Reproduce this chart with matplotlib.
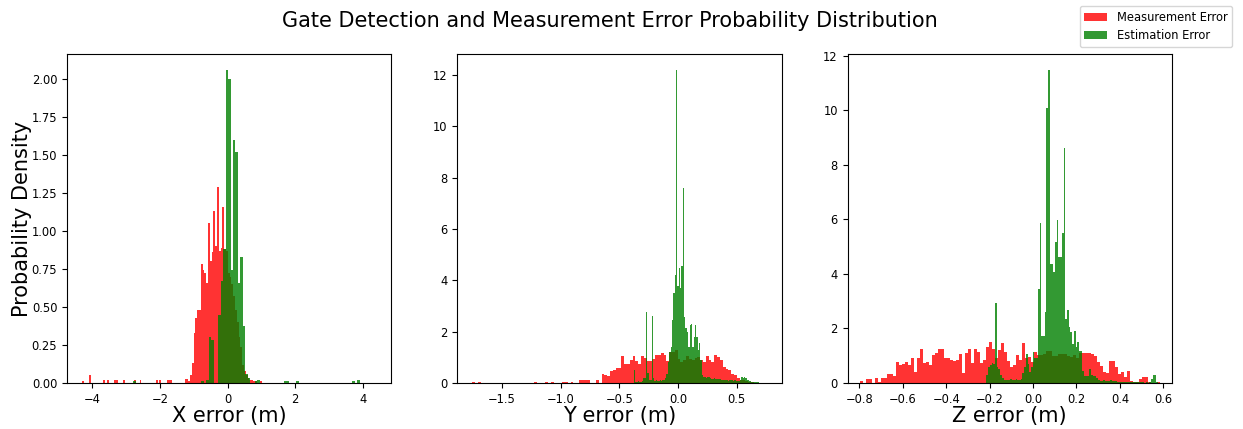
import numpy as np
import matplotlib
matplotlib.use("Agg")
import matplotlib.pyplot as plt

# Histogram densities per axis: bin start, bin width and density per bin

# X error
x_meas_start, x_meas_width = -4.31, 0.0533
x_meas_density = [
    0.015, 0, 0, 0, 0.055, 0, 0, 0, 0, 0,
    0, 0, 0.018, 0, 0.018, 0, 0, 0, 0.018, 0.018,
    0, 0, 0, 0.018, 0, 0, 0, 0, 0, 0.018,
    0, 0, 0.018, 0, 0, 0, 0, 0, 0, 0,
    0, 0.018, 0, 0.018, 0, 0, 0, 0.018, 0.018, 0.018,
    0, 0, 0, 0, 0, 0, 0, 0.027, 0.027, 0.012,
    0.05, 0.13, 0.33, 0.43, 0.48, 0.48, 0.78, 0.74, 0.72, 0.66,
    1.05, 0.80, 0.86, 1.13, 0.90, 1.29, 0.87, 0.89, 1.16, 0.88,
    0.87, 0.72, 0.70, 0.65, 0.57, 0.48, 0.40, 0.30, 0.24, 0.12,
    0.08, 0.05, 0.03, 0.02, 0.02, 0.01, 0.01, 0, 0, 0.01,
]
x_est_start, x_est_width = -2.79, 0.072
x_est_density = [
    0.013, 0, 0, 0, 0, 0, 0, 0, 0, 0,
    0, 0, 0, 0, 0, 0, 0, 0, 0, 0,
    0, 0, 0, 0, 0, 0, 0, 0, 0.01, 0,
    0.02, 0.30, 0.28, 0, 0, 0.45, 0.67, 0.88, 2.06, 2.00,
    0.74, 1.60, 1.52, 0.66, 0.83, 0.375, 0.06, 0.03, 0, 0,
    0.013, 0.02, 0, 0, 0, 0, 0, 0, 0, 0,
    0, 0, 0.01, 0.01, 0, 0, 0, 0.01, 0, 0,
    0, 0, 0, 0, 0, 0, 0, 0, 0, 0,
    0, 0, 0, 0, 0, 0, 0, 0, 0, 0,
    0.01, 0, 0.02,
]

# Y error
y_meas_start, y_meas_width = -1.756, 0.024
y_meas_density = [
    0.02, 0, 0.02, 0, 0, 0, 0, 0, 0, 0,
    0, 0, 0, 0, 0, 0, 0, 0, 0, 0,
    0, 0, 0.02, 0, 0, 0, 0.05, 0, 0.03, 0,
    0, 0, 0.03, 0.03, 0, 0.02, 0, 0, 0.12, 0.12,
    0.10, 0.10, 0, 0, 0.12, 0, 0.35, 0.31, 0.28, 0.47,
    0.50, 0.59, 0.60, 1.04, 0.73, 0.73, 0.89, 1.06, 0.86, 0.75,
    1.04, 0.97, 0.86, 0.86, 0.92, 1.10, 1.09, 1.15, 1.10, 0.86,
    1.19, 1.21, 1.28, 0.95, 0.82, 0.90, 1.04, 0.92, 0.89, 0.98,
    1.00, 0.90, 0.82, 1.04, 0.90, 0.82, 1.08, 1.00, 0.89, 0.63,
    0.56, 0.50, 0.35, 0.30, 0.20, 0.13, 0.12, 0.08, 0.04, 0.03,
]
y_est_start, y_est_width = -0.40, 0.01157
y_est_density = [
    0, 0, 0.50, 0.05, 0.04, 0.06, 0.05, 0.04, 0.06, 0.20,
    0.20, 2.78, 0.40, 0.10, 0.10, 2.60, 0.20, 0.08, 0.10, 0.06,
    0.08, 0.10, 0.08, 0.10, 0.12, 0.20, 0.35, 0.80, 1.20, 1.41,
    2.45, 3.50, 4.21, 12.2, 3.76, 4.47, 3.69, 4.54, 7.60, 2.58,
    2.13, 2.00, 1.40, 2.26, 2.30, 1.40, 1.80, 2.25, 1.80, 1.28,
    1.54, 0.90, 0.30, 0.23, 0.25, 0.20, 0.23, 0.25, 0.20, 0.17,
    0.15, 0.18, 0.17, 0.15, 0.17, 0.14, 0.12, 0.12, 0.10, 0.12,
    0.10, 0.08, 0.10, 0.12, 0.10, 0.08, 0.10, 0.08, 0.06, 0.08,
    0.10, 0.22, 0.20, 0.22, 0.18, 0.10, 0.10, 0.08, 0.05, 0.03,
    0.03, 0.02, 0.02, 0.03,
]

# Z error
z_meas_start, z_meas_width = -0.795, 0.0138
z_meas_density = [
    0.06, 0, 0.13, 0.13, 0, 0.17, 0.05, 0.17, 0.17, 0.33,
    0.33, 0.26, 0.78, 0.65, 0.69, 0.77, 0.65, 0.90, 0.39, 0.90,
    1.24, 0.74, 0.77, 0.65, 1.04, 1.10, 1.24, 1.24, 0.90, 0.90,
    0.83, 0.80, 0.83, 1.05, 0.37, 1.10, 1.25, 0.74, 1.25, 1.14,
    0.74, 0.83, 1.32, 1.50, 1.26, 0.90, 1.20, 1.45, 1.14, 0.80,
    0.59, 0.65, 1.02, 0.83, 1.45, 0.93, 0.96, 0.77, 1.14, 1.02,
    1.02, 1.05, 1.18, 1.18, 1.00, 1.00, 1.08, 1.08, 1.07, 1.00,
    0.95, 1.04, 0.90, 1.10, 1.10, 1.10, 1.09, 1.05, 1.00, 0.76,
    0.64, 0.39, 0.36, 0.82, 0.82, 0.58, 0.33, 0.39, 0.21, 0.43,
    0.09, 0.03, 0.03, 0.16, 0.21, 0.21, 0.05, 0, 0, 0.05,
]
z_est_start, z_est_width = -0.215, 0.0079
z_est_density = [
    0.30, 0.60, 0.65, 0.75, 0.70, 2.92, 0.60, 0.50, 0.30, 0.20,
    0.10, 0.10, 0.10, 0.12, 0.15, 0.12, 0.10, 0.15, 0.12, 0.10,
    0.15, 0.35, 0.60, 1.05, 0.70, 0.40, 0.60, 1.14, 0.90, 0.90,
    3.46, 5.85, 1.72, 1.72, 2.60, 10.08, 11.49, 4.38, 4.38, 4.07,
    5.17, 5.97, 4.62, 4.62, 5.50, 8.60, 2.35, 2.66, 2.05, 1.86,
    1.43, 1.92, 1.31, 1.50, 1.19, 1.19, 0.45, 0.27, 0.25, 0.27,
    0.50, 0.30, 0.27, 0.25, 0.20, 0.10, 0.08, 0.09, 0.10, 0.07,
    0.09, 0.08, 0.10, 0.06, 0.08, 0.07, 0.05, 0.05, 0.04, 0.05,
    0.03, 0.04, 0.05, 0.03, 0.02, 0.04, 0.03, 0.02, 0.03, 0.02,
    0.03, 0.02, 0, 0.02, 0, 0.02, 0.15, 0.29, 0.29, 0.05,
]

panels = [
    ("X error (m)", (x_meas_start, x_meas_width, x_meas_density),
     (x_est_start, x_est_width, x_est_density), (-4.75, 4.85)),
    ("Y error (m)", (y_meas_start, y_meas_width, y_meas_density),
     (y_est_start, y_est_width, y_est_density), (-1.882, 0.883)),
    ("Z error (m)", (z_meas_start, z_meas_width, z_meas_density),
     (z_est_start, z_est_width, z_est_density), (-0.854, 0.640)),
]


def draw_hist(ax, start, width, density, color, label):
    density = np.asarray(density, dtype=float)
    edges = start + width * np.arange(len(density) + 1)
    centers = 0.5 * (edges[:-1] + edges[1:])
    ax.hist(centers, bins=edges, weights=density, color=color, alpha=0.8, label=label)


fig, axes = plt.subplots(1, 3, figsize=(12.43, 4.29), dpi=100)
fig.subplots_adjust(left=0.0539, right=0.9429, bottom=0.1072, top=0.8741, wspace=0.203)

for ax, (xlabel, meas, est, xlim) in zip(axes, panels):
    draw_hist(ax, *meas, color="red", label="Measurement Error")
    draw_hist(ax, *est, color="green", label="Estimation Error")
    ax.set_xlim(*xlim)
    ax.set_xlabel(xlabel, fontsize=15, labelpad=0)
    ax.tick_params(labelsize=8.3)

axes[0].set_ylabel("Probability Density", fontsize=15, labelpad=0)

handles, labels = axes[0].get_legend_handles_labels()
fig.legend(handles, labels, loc="upper right", bbox_to_anchor=(1232 / 1243, 1 - 6 / 429),
           borderaxespad=0, fontsize=8.3)
fig.suptitle("Gate Detection and Measurement Error Probability Distribution",
             fontsize=15, x=0.491, y=0.975)

plt.savefig("out.png", dpi=100)
plt.close()
